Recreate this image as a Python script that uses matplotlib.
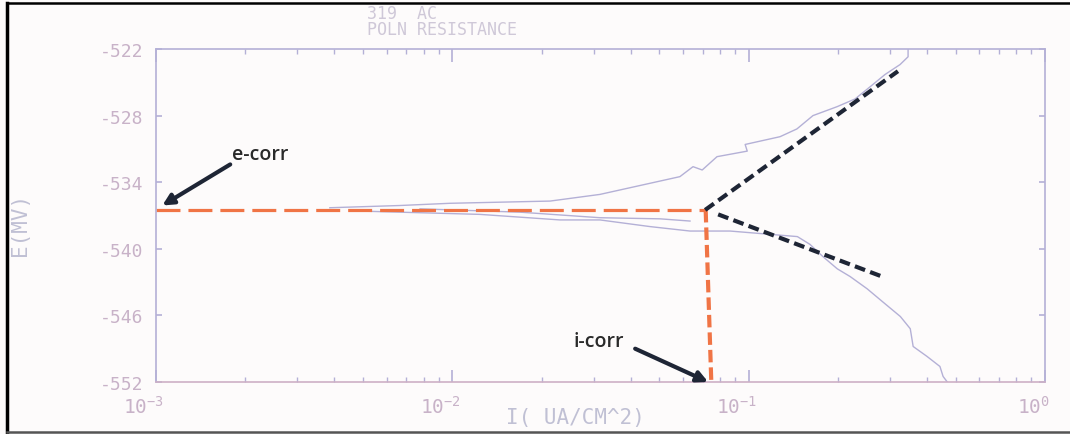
import matplotlib
matplotlib.use("Agg")
import matplotlib.pyplot as plt
from matplotlib.transforms import ScaledTranslation
from matplotlib.lines import Line2D

plt.rcParams['mathtext.fontset'] = 'custom'
plt.rcParams['mathtext.rm'] = 'DejaVu Sans Mono'
plt.rcParams['mathtext.it'] = 'DejaVu Sans Mono'

# anodic branch of the scan (I in uA/cm^2, E in mV)
anodic_i = [0.00386, 0.00665, 0.00982, 0.01449, 0.02138, 0.03148, 0.04295, 0.0586,
            0.0649, 0.0697, 0.0782, 0.0989, 0.0973, 0.1276, 0.1455, 0.1648, 0.1986,
            0.2286, 0.2570, 0.2884, 0.3243, 0.3451, 0.3451]
anodic_e = [-536.3, -536.1, -535.9, -535.8, -535.7, -535.1, -534.3, -533.5,
            -532.6, -532.9, -531.7, -531.2, -530.6, -529.9, -529.2, -528.0, -527.2,
            -526.5, -525.4, -524.3, -523.4, -522.7, -522.0]

# cathodic branch
cathodic_i = [0.00487, 0.0124, 0.0231, 0.0315, 0.0465, 0.0634, 0.0865, 0.146, 0.161,
              0.178, 0.199, 0.220, 0.251, 0.284, 0.325, 0.351, 0.359, 0.400, 0.442,
              0.453, 0.468]
cathodic_e = [-536.6, -536.9, -537.4, -537.4, -538.0, -538.4, -538.4, -538.9, -539.6,
              -540.7, -541.8, -542.5, -543.6, -544.8, -546.1, -547.2, -548.8, -549.7,
              -550.6, -551.5, -552.0]

# short return trace near e-corr
return_i = [0.00778, 0.0169, 0.0315, 0.0502, 0.0634]
return_e = [-536.4, -536.7, -537.2, -537.3, -537.5]

# tafel extrapolations and e-corr / i-corr construction
tafel_a_i = [0.0713, 0.319]
tafel_a_e = [-536.5, -524.0]
tafel_c_i = [0.0789, 0.282]
tafel_c_e = [-536.9, -542.5]
ecorr_i = [0.001, 0.0713]
ecorr_e = [-536.5, -536.5]
icorr_i = [0.0716, 0.0748]
icorr_e = [-536.5, -552.0]

y_ticks = [-522, -528, -534, -540, -546, -552]
x_ticks = [0.001, 0.01, 0.1, 1.0]
x_labels = [r'$10^{-3}$', r'$10^{-2}$', r'$10^{-1}$', r'$10^{0}$']

plot_col = '#b4b0d6'
text_col = '#c8b2c8'
orange = '#f07445'
dark = '#1e2535'

fig = plt.figure(figsize=(10.7, 4.35), dpi=100)
fig.patch.set_facecolor('#fdfbfb')
ax = fig.add_axes([156 / 1070, 1 - 383 / 435, (1045 - 156) / 1070, (383 - 50) / 435])
ax.set_facecolor('#fdfbfb')

ax.set_xscale('log')
ax.set_xlim(0.001, 1.0)
ax.set_ylim(-552, -522)

ax.plot(anodic_i, anodic_e, color=plot_col, lw=1.0)
ax.plot(cathodic_i, cathodic_e, color=plot_col, lw=1.0)
ax.plot(return_i, return_e, color=plot_col, lw=1.0)

ax.plot(ecorr_i, ecorr_e, color=orange, lw=2.3, dashes=(7.5, 2.5), solid_capstyle='butt')
ax.plot(icorr_i, icorr_e, color=orange, lw=3.0, dashes=(3.0, 1.2), clip_on=False)
ax.plot(tafel_a_i, tafel_a_e, color=dark, lw=3.0, dashes=(2.6, 1.3))
ax.plot(tafel_c_i, tafel_c_e, color=dark, lw=3.0, dashes=(2.6, 1.3))

for s in ax.spines.values():
    s.set_color(plot_col)
    s.set_linewidth(1.2)
ax.spines['bottom'].set_color('#cdb0c6')

ax.set_yticks(y_ticks)
ax.set_yticklabels([str(v) for v in y_ticks])
ax.set_xticks(x_ticks)
ax.set_xticklabels(x_labels)
ax.tick_params(which='both', direction='in', top=True, right=True, color=plot_col,
               labelcolor=text_col)
ax.tick_params(axis='x', which='major', length=9, width=1.2, labelsize=14, pad=9)
ax.tick_params(axis='x', which='minor', length=3.5, width=1.0)
ax.tick_params(axis='y', which='major', length=4, width=1.2, labelsize=13, pad=9)
for lab in ax.get_yticklabels():
    lab.set_family('DejaVu Sans Mono')
for lab in ax.get_xticklabels():
    lab.set_transform(lab.get_transform() + ScaledTranslation(-0.12, 0, fig.dpi_scale_trans))

# plotter header and axis titles
fig.text(367 / 1070, 1 - 14 / 435, '319  AC', family='DejaVu Sans Mono', fontsize=12,
         color='#cfc8d8', va='center', ha='left')
fig.text(367 / 1070, 1 - 30 / 435, 'POLN RESISTANCE', family='DejaVu Sans Mono', fontsize=12,
         color='#cfc8d8', va='center', ha='left')
fig.text(575 / 1070, 1 - 418 / 435, 'I( UA/CM^2)', family='DejaVu Sans Mono', fontsize=15,
         color='#c0c0d4', va='center', ha='center')
fig.text(20 / 1070, 1 - 224 / 435, 'E(MV)', family='DejaVu Sans Mono', fontsize=15,
         color='#c0c0d4', va='center', ha='center', rotation=90)

# annotations
ax.annotate('', xy=(0.00105, -536.1), xytext=(0.00178, -532.4),
            arrowprops=dict(arrowstyle='-|>', color=dark, lw=3, mutation_scale=16,
                            shrinkA=0, shrinkB=0), annotation_clip=False)
ax.text(0.00224, -531.5, 'e-corr', family='Open Sans', fontweight='semibold', fontsize=14,
        color='#2a2a2a', ha='center', va='center')
ax.annotate('', xy=(0.0730, -552.0), xytext=(0.0414, -549.0),
            arrowprops=dict(arrowstyle='-|>', color=dark, lw=3, mutation_scale=16,
                            shrinkA=0, shrinkB=0), annotation_clip=False)
ax.text(0.0313, -548.3, 'i-corr', family='Open Sans', fontweight='semibold', fontsize=14,
        color='#2a2a2a', ha='center', va='center')

# scan frame
fig.add_artist(Line2D([6.5 / 1070, 6.5 / 1070], [0, 1 - 4 / 435], transform=fig.transFigure,
                      color='black', lw=2.5))
fig.add_artist(Line2D([6.5 / 1070, 1], [1 - 4 / 435, 1 - 4 / 435], transform=fig.transFigure,
                      color='black', lw=1.8))
fig.add_artist(Line2D([6.5 / 1070, 1], [1 - 433 / 435, 1 - 433 / 435], transform=fig.transFigure,
                      color='#555555', lw=1.8))

fig.savefig('out.png', dpi=100, facecolor=fig.get_facecolor())
